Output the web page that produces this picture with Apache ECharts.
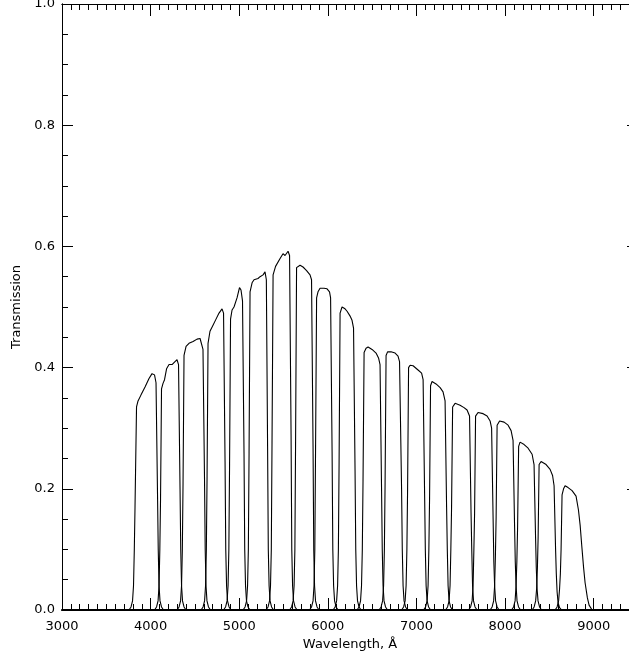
<!DOCTYPE html>
<html>
<head>
<meta charset="utf-8">
<script src="https://cdn.jsdelivr.net/npm/echarts/dist/echarts.min.js"></script>
<style>
  html, body { margin: 0; padding: 0; background: #fff; }
  #chart { width: 629px; height: 656px; background: #fff; }
</style>
</head>
<body>
<div id="chart"></div>
<script>
// tick labels
const xTicks = [3000, 4000, 5000, 6000, 7000, 8000, 9000];
const yTicks = [0.0, 0.2, 0.4, 0.6, 0.8, 1.0];

// filter transmission curves, [wavelength (A), transmission]
const filter01 = [[3756,0],[3779,0.005],[3796,0.015],[3807,0.04],[3816,0.1],[3824,0.17],[3841,0.335],[3858,0.345],[3892,0.355],[3937,0.368],[3982,0.382],[4016,0.39],[4044,0.388],[4061,0.375],[4078,0.19],[4086,0.1],[4095,0.04],[4106,0.015],[4123,0.005],[4146,0]];
const filter02 = [[4044,0],[4067,0.005],[4084,0.015],[4095,0.04],[4104,0.1],[4112,0.183],[4123,0.365],[4140,0.374],[4157,0.38],[4180,0.398],[4208,0.405],[4242,0.405],[4275,0.41],[4298,0.413],[4315,0.405],[4332,0.2],[4340,0.1],[4349,0.04],[4360,0.015],[4377,0.005],[4400,0]];
const filter03 = [[4298,0],[4321,0.005],[4338,0.015],[4349,0.04],[4358,0.1],[4366,0.21],[4377,0.42],[4400,0.435],[4433,0.44],[4479,0.443],[4524,0.447],[4558,0.448],[4580,0.445],[4591,0.43],[4608,0.22],[4616,0.1],[4625,0.04],[4636,0.015],[4653,0.005],[4676,0]];
const filter04 = [[4569,0],[4592,0.005],[4609,0.015],[4620,0.04],[4629,0.1],[4637,0.22],[4648,0.44],[4670,0.46],[4704,0.47],[4738,0.48],[4772,0.49],[4806,0.497],[4823,0.49],[4840,0.245],[4848,0.1],[4857,0.04],[4868,0.015],[4885,0.005],[4908,0]];
const filter05 = [[4823,0],[4846,0.005],[4863,0.015],[4874,0.04],[4883,0.1],[4891,0.24],[4902,0.48],[4919,0.495],[4941,0.5],[4975,0.515],[5003,0.532],[5020,0.528],[5037,0.51],[5054,0.26],[5062,0.1],[5071,0.04],[5082,0.015],[5099,0.005],[5122,0]];
const filter06 = [[5043,0],[5066,0.005],[5083,0.015],[5094,0.04],[5103,0.1],[5111,0.26],[5122,0.525],[5145,0.54],[5167,0.545],[5212,0.547],[5235,0.55],[5269,0.553],[5291,0.558],[5306,0.545],[5320,0.27],[5328,0.1],[5337,0.04],[5348,0.015],[5365,0.005],[5388,0]];
const filter07 = [[5302,0],[5325,0.005],[5342,0.015],[5353,0.04],[5362,0.1],[5370,0.275],[5382,0.553],[5410,0.567],[5427,0.566],[5461,0.58],[5494,0.588],[5517,0.585],[5551,0.592],[5568,0.585],[5585,0.29],[5593,0.1],[5602,0.04],[5613,0.015],[5630,0.005],[5653,0]];
const filter08 = [[5568,0],[5591,0.005],[5608,0.015],[5619,0.04],[5628,0.1],[5636,0.28],[5647,0.565],[5664,0.568],[5686,0.569],[5720,0.566],[5760,0.56],[5799,0.553],[5816,0.545],[5833,0.27],[5841,0.1],[5850,0.04],[5861,0.015],[5878,0.005],[5901,0]];
const filter09 = [[5793,0],[5816,0.005],[5833,0.015],[5844,0.04],[5853,0.1],[5861,0.26],[5873,0.515],[5889,0.525],[5912,0.531],[5957,0.531],[5991,0.53],[6019,0.525],[6031,0.515],[6048,0.26],[6056,0.1],[6065,0.04],[6076,0.015],[6093,0.005],[6116,0]];
const filter10 = [[6059,0],[6082,0.005],[6099,0.015],[6110,0.04],[6119,0.1],[6127,0.245],[6138,0.49],[6160,0.5],[6194,0.497],[6217,0.493],[6251,0.485],[6273,0.478],[6290,0.465],[6307,0.23],[6315,0.1],[6324,0.04],[6335,0.015],[6352,0.005],[6375,0]];
const filter11 = [[6329,0],[6352,0.005],[6369,0.015],[6380,0.04],[6389,0.1],[6397,0.213],[6409,0.425],[6431,0.432],[6454,0.434],[6499,0.43],[6544,0.424],[6572,0.416],[6589,0.405],[6606,0.2],[6614,0.1],[6623,0.04],[6634,0.015],[6651,0.005],[6674,0]];
const filter12 = [[6578,0],[6601,0.005],[6618,0.015],[6629,0.04],[6638,0.1],[6646,0.21],[6657,0.42],[6674,0.426],[6713,0.426],[6759,0.424],[6792,0.419],[6809,0.41],[6832,0.2],[6840,0.1],[6849,0.04],[6860,0.015],[6877,0.005],[6900,0]];
const filter13 = [[6832,0],[6855,0.005],[6872,0.015],[6883,0.04],[6892,0.1],[6900,0.2],[6911,0.4],[6928,0.404],[6962,0.403],[7018,0.396],[7058,0.391],[7075,0.38],[7092,0.19],[7100,0.1],[7109,0.04],[7120,0.015],[7137,0.005],[7160,0]];
const filter14 = [[7080,0],[7103,0.005],[7120,0.015],[7131,0.04],[7140,0.1],[7148,0.185],[7159,0.37],[7176,0.377],[7221,0.373],[7267,0.367],[7300,0.36],[7323,0.345],[7340,0.17],[7348,0.1],[7357,0.04],[7368,0.015],[7385,0.005],[7408,0]];
const filter15 = [[7328,0],[7351,0.005],[7368,0.015],[7379,0.04],[7388,0.1],[7396,0.168],[7408,0.335],[7436,0.341],[7492,0.338],[7537,0.334],[7571,0.33],[7599,0.32],[7616,0.16],[7624,0.1],[7633,0.04],[7644,0.015],[7661,0.005],[7684,0]];
const filter16 = [[7588,0],[7611,0.005],[7628,0.015],[7639,0.04],[7648,0.1],[7656,0.16],[7667,0.32],[7695,0.326],[7752,0.324],[7797,0.32],[7831,0.312],[7848,0.3],[7865,0.15],[7873,0.08],[7882,0.04],[7893,0.015],[7910,0.005],[7933,0]];
const filter17 = [[7831,0],[7854,0.005],[7871,0.015],[7882,0.04],[7891,0.09],[7899,0.153],[7910,0.305],[7938,0.312],[7989,0.31],[8034,0.305],[8068,0.296],[8090,0.28],[8107,0.14],[8115,0.08],[8124,0.04],[8135,0.015],[8152,0.005],[8175,0]];
const filter18 = [[8073,0],[8096,0.005],[8113,0.015],[8124,0.04],[8133,0.08],[8141,0.135],[8153,0.27],[8169,0.277],[8215,0.273],[8260,0.267],[8305,0.257],[8327,0.24],[8344,0.12],[8352,0.07],[8361,0.035],[8372,0.015],[8389,0.005],[8412,0]];
const filter19 = [[8305,0],[8328,0.005],[8345,0.015],[8356,0.035],[8365,0.07],[8373,0.12],[8384,0.24],[8406,0.245],[8463,0.24],[8508,0.232],[8536,0.222],[8553,0.205],[8570,0.1],[8578,0.06],[8587,0.03],[8598,0.012],[8615,0.004],[8638,0]];
const filter20 = [[8564,0],[8587,0.005],[8604,0.015],[8615,0.035],[8624,0.06],[8632,0.1],[8643,0.19],[8660,0.2],[8677,0.205],[8711,0.202],[8756,0.197],[8801,0.188],[8828,0.165],[8847,0.14],[8866,0.105],[8886,0.07],[8903,0.045],[8929,0.02],[8948,0.008],[8982,0]];

const filters = [filter01, filter02, filter03, filter04, filter05, filter06, filter07, filter08, filter09, filter10,
  filter11, filter12, filter13, filter14, filter15, filter16, filter17, filter18, filter19, filter20];

const font = 'DejaVu Sans';
const black = '#000';
const xMax = 9500;
const xStep = xTicks[1] - xTicks[0];
const yStep = yTicks[1] - yTicks[0];

// one axis per tick size; minor ticks come from their own axes
function xAxisOf(grid, position, step, tickLen, inside, extra) {
  return Object.assign({
    type: 'value', gridIndex: grid, position: position,
    min: xTicks[0], max: xMax, interval: step,
    splitLine: { show: false },
    axisLine: { show: true, onZero: false, lineStyle: { color: black, width: 1 } },
    axisTick: { show: true, inside: inside, length: tickLen, lineStyle: { color: black, width: 1 } },
    axisLabel: { show: false }
  }, extra || {});
}
function yAxisOf(grid, position, step, tickLen, extra) {
  return Object.assign({
    type: 'value', gridIndex: grid, position: position,
    min: yTicks[0], max: yTicks[yTicks.length - 1], interval: step,
    splitLine: { show: false },
    axisLine: { show: true, onZero: false, lineStyle: { color: black, width: 1 } },
    axisTick: { show: true, inside: true, length: tickLen, lineStyle: { color: black, width: 1 } },
    axisLabel: { show: false }
  }, extra || {});
}

const chart = echarts.init(document.getElementById('chart'));
chart.setOption({
  animation: false,
  grid: [
    // main plot box
    { left: 62, right: -9, top: 4, bottom: 46, outerBoundsMode: 'none' },
    // thin box ending at the top edge of the plot: its bottom axis is the top frame
    { left: 62, right: -9, top: -100, height: 104, outerBoundsMode: 'none' }
  ],
  xAxis: [
    xAxisOf(0, 'bottom', xStep, 12, true, {
      axisLine: { show: true, onZero: false, lineStyle: { color: black, width: 2 } },
      axisLabel: {
        show: true, color: black, fontFamily: font, fontSize: 13, margin: 10,
        formatter: v => (xTicks.indexOf(v) >= 0 ? String(v) : '')
      },
      name: 'Wavelength, Å',
      nameLocation: 'middle',
      nameGap: 25,
      nameTextStyle: { color: black, fontFamily: font, fontSize: 13 }
    }),
    xAxisOf(0, 'bottom', xStep / 10, 6, true),
    xAxisOf(1, 'bottom', xStep, 12, false),
    xAxisOf(1, 'bottom', xStep / 10, 6, false)
  ],
  yAxis: [
    yAxisOf(0, 'left', yStep, 11, {
      axisLabel: {
        show: true, color: black, fontFamily: font, fontSize: 13, margin: 7,
        formatter: v => v.toFixed(1)
      },
      name: 'Transmission',
      nameLocation: 'middle',
      nameGap: 36,
      nameTextStyle: { color: black, fontFamily: font, fontSize: 13 }
    }),
    yAxisOf(0, 'left', yStep / 4, 6),
    yAxisOf(0, 'right', yStep, 11),
    yAxisOf(0, 'right', yStep / 4, 6),
    yAxisOf(1, 'left', yStep, 0, { show: false })
  ],
  series: filters.map((f, i) => ({
    name: 'filter' + (i + 1),
    type: 'line',
    xAxisIndex: 0,
    yAxisIndex: 0,
    data: f,
    showSymbol: false,
    symbol: 'none',
    smooth: false,
    lineStyle: { color: black, width: 1.1 }
  }))
});
</script>
</body>
</html>
